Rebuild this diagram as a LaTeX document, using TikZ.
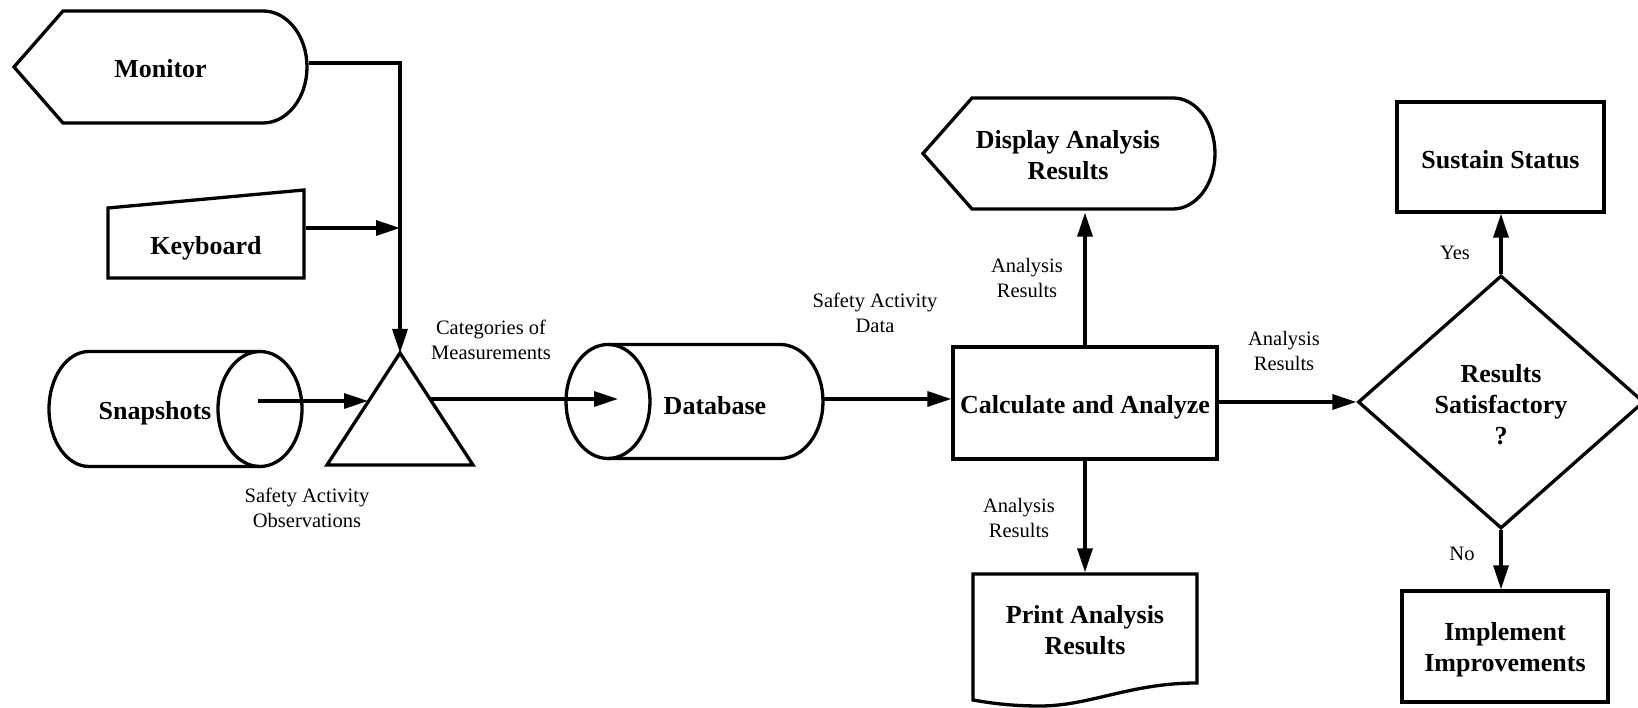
\documentclass[tikz,border=0pt]{standalone}
\usepackage{fontspec}
\setmainfont{Liberation Serif}
\usetikzlibrary{arrows.meta,shapes.geometric,calc}
\begin{document}
\begin{tikzpicture}[x=1pt,y=1pt,
  line width=3.3pt, line join=miter,
  arr/.style={-{Triangle[length=24pt,width=15pt]}},
  bold/.style={font=\fontsize{26}{31}\selectfont\bfseries, align=center, inner sep=0pt},
  lbl/.style={font=\fontsize{20.5}{25}\selectfont, align=center, inner sep=0pt},
  box/.style={draw, rectangle, inner sep=0pt}]
\useasboundingbox (0,0) rectangle (1638,708);
\clip (0,0) rectangle (1638,708);

% Monitor
\draw (14,641) -- (63,697) -- (263,697) arc[start angle=90,end angle=-90,x radius=44pt,y radius=56pt] -- (63,585) -- cycle;
\node[bold, minimum width=293pt, minimum height=112pt] (monitor) at (160.5,639) {Monitor};

% Keyboard
\draw (108,430) -- (108,500) -- (304,518) -- (304,430) -- cycle;
\node[bold, minimum width=196pt] (keyboard) at (206,460) {Keyboard};

% Snapshots
\draw (260,356.5) -- (89,356.5) arc[start angle=90,end angle=270,x radius=40pt,y radius=57.5pt] -- (260,241.5);
\draw (260,299) ellipse[x radius=42pt,y radius=57.5pt];
\node[bold] (snap) at (155,295) {Snapshots};

% merge triangle
\coordinate (tapex) at (400,355);
\coordinate (tbl) at (327,243);
\coordinate (tbr) at (473,243);
\draw (tapex) -- (tbr) -- (tbl) -- cycle;

% Database
\draw (608,363.5) -- (780,363.5) arc[start angle=90,end angle=-90,x radius=43pt,y radius=57pt] -- (608,249.5);
\draw (608,306.5) ellipse[x radius=42pt,y radius=57pt];
\node[bold] (db) at (715,302) {Database};

% Calculate
\node[box, minimum width=264pt, minimum height=112pt] (calc) at (1085,305) {};
\node[bold] (calct) at (1085,301) {Calculate and Analyze};

% Display
\draw (923,554.5) -- (972,610) -- (1173,610) arc[start angle=90,end angle=-90,x radius=42pt,y radius=55.5pt] -- (972,499) -- cycle;
\node[bold, minimum height=111pt] (display) at (1068,552.5) {Display Analysis\\Results};

% Print
\draw (973,134) -- (1197,134) -- (1197,25) .. controls (1130,25) and (1090,2) .. (1040,2) .. controls (1010,2) and (990,5) .. (973,8) -- cycle;
\node[bold, minimum height=112pt] (print) at (1085,78) {Print Analysis\\Results};

% Decision and outcomes
\node[draw, diamond, minimum width=286pt, minimum height=253pt, inner sep=0pt] (dec) at (1501,306) {};
\node[bold] (dect) at (1501,303) {Results\\Satisfactory\\?};
\node[box, minimum width=207pt, minimum height=110pt] (sustain) at (1500.5,551) {};
\node[bold] (sustaint) at (1500.5,548) {Sustain Status};
\node[box, minimum width=206pt, minimum height=111pt] (impl) at (1505,61.5) {};
\node[bold] (implt) at (1505,58) {Implement\\Improvements};

% connectors
\draw[arr] ([yshift=6pt]monitor.east) -| (tapex);
\coordinate (kbj) at (400,480);
\draw[arr] (keyboard.east |- kbj) -- (kbj);
\coordinate (snapout) at (258,307);
\coordinate (tleft) at (368,307);
\draw[arr] (snapout) -- (tleft);
\coordinate (tright) at (430,309);
\coordinate (dbin) at (618,309);
\draw[arr] (tright) -- (dbin);
\coordinate (dbout) at (823,309);
\draw[arr] (dbout) -- (calc.west |- dbout);
\draw[arr] (calc.north) -- (calc.north |- display.south);
\draw[arr] (calc.south) -- (calc.south |- print.north);
\draw[arr] (calc.east |- dec.west) -- (dec.west);
\draw[arr] (dec.north) -- (dec.north |- sustain.south);
\draw[arr] (dec.south) -- (dec.south |- impl.north);

% labels
\node[lbl] (l1) at (491,368.5) {Categories of\\Measurements};
\node[lbl] (l2) at (307,200.5) {Safety Activity\\Observations};
\node[lbl] (l3) at (875,395.5) {Safety Activity\\Data};
\node[lbl] (l4) at (1027,430.5) {Analysis\\Results};
\node[lbl] (l5) at (1019,190.5) {Analysis\\Results};
\node[lbl] (l6) at (1284,357) {Analysis\\Results};
\node[lbl] (l7) at (1455,455) {Yes};
\node[lbl] (l8) at (1462,154) {No};
\end{tikzpicture}
\end{document}
